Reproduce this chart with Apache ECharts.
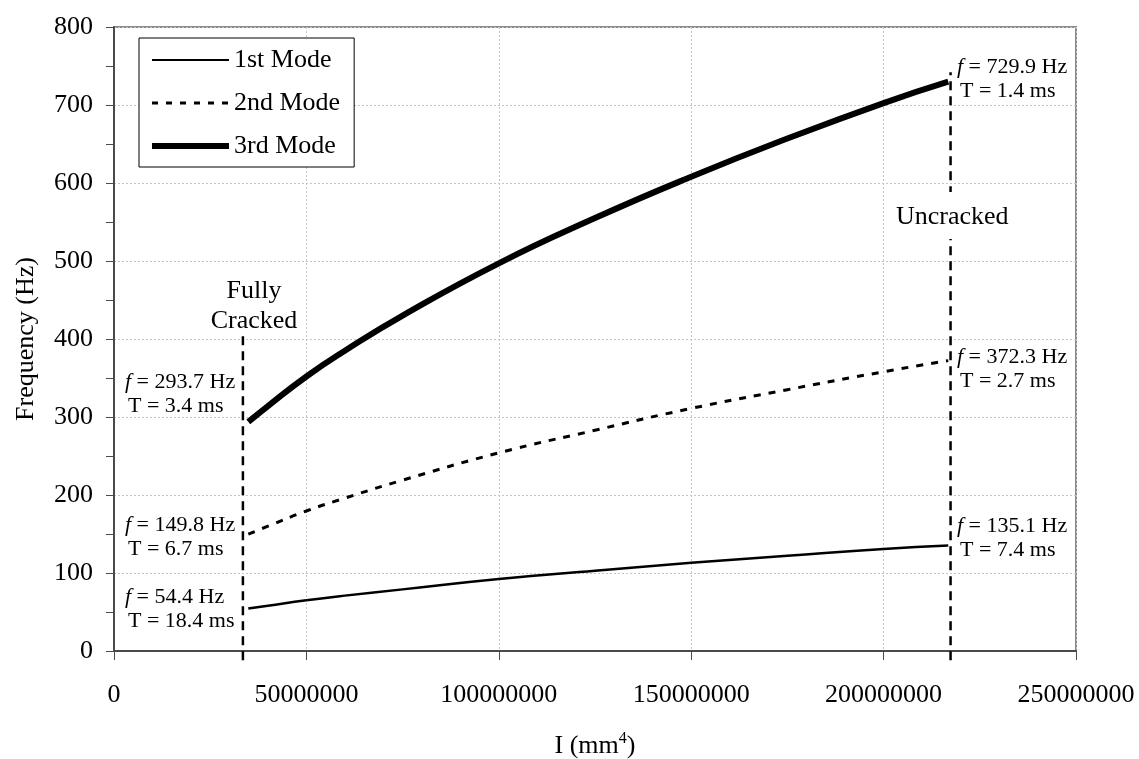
<!DOCTYPE html>
<html>
<head>
<meta charset="utf-8">
<script src="https://cdn.jsdelivr.net/npm/echarts@6/dist/echarts.min.js"></script>
<style>html,body{margin:0;padding:0;background:#fff;}#c{width:1139px;height:759px;}</style>
</head>
<body>
<div id="c"></div>
<script>
// ---- data ----
var inertia = [34900000, 40000000, 50000000, 60000000, 75000000, 100000000, 125000000, 150000000, 175000000, 200000000, 216800000];
var mode1 = [54.4, 58, 65, 71, 79, 92.3, 103, 113, 122, 130.8, 135.1];
var mode2 = [149.8, 160, 179.5, 196, 219, 254, 283, 311, 335, 358, 372.3];
var mode3 = [293.7, 314, 352, 385, 430, 497, 555, 608, 657, 702.5, 729.9];
var seriesNames = ['1st Mode', '2nd Mode', '3rd Mode'];
var crackedI = 33500000;
var uncrackedI = 217400000;
var crackedLine = [-12, 405];
var uncrackedLine = [-12, 742];
var leftLabels = [['293.7', '3.4'], ['149.8', '6.7'], ['54.4', '18.4']];
var rightLabels = [['729.9', '1.4'], ['372.3', '2.7'], ['135.1', '7.4']];
var yTicks = {min: 0, max: 800, interval: 100};
var xTicks = {min: 0, max: 250000000, interval: 50000000};

var FONT = '"Liberation Serif", "Times New Roman", serif';

function pairs(xs, ys) { return xs.map(function (x, i) { return [x, ys[i]]; }); }

var chart = echarts.init(document.getElementById('c'), null, {renderer: 'canvas'});

var rich = {
  i: {fontFamily: FONT, fontStyle: 'italic', fontSize: 22, color: '#000'},
  n: {fontFamily: FONT, fontSize: 22, color: '#000'}
};
function annot(x, y, f, t) {
  return [
    {type: 'text', left: x, top: y - 12, z: 50,
     style: {text: '{i|f}{n| = ' + f + ' Hz}', rich: rich, font: '22px ' + FONT, fill: '#000'}},
    {type: 'text', left: x + 3, top: y + 12, z: 50,
     style: {text: 'T = ' + t + ' ms', font: '22px ' + FONT, fill: '#000'}}
  ];
}
var leftY = [383, 526, 598];
var rightY = [68, 358, 527];
var graphics = [];
leftLabels.forEach(function (l, k) { graphics = graphics.concat(annot(125, leftY[k], l[0], l[1])); });
rightLabels.forEach(function (l, k) { graphics = graphics.concat(annot(957, rightY[k], l[0], l[1])); });
graphics.push({type: 'text', z: 50, x: 254, y: 276,
  style: {text: 'Fully\nCracked', font: '26px ' + FONT, fill: '#000', align: 'center', verticalAlign: 'top', lineHeight: 30}});
graphics.push({type: 'rect', z: 40, shape: {x: 885, y: 192, width: 130, height: 47}, style: {fill: '#fff'}});
graphics.push({type: 'text', z: 50, left: 896, top: 204,
  style: {text: 'Uncracked', font: '26px ' + FONT, fill: '#000'}});

var legendWidths = [2, 3, 6];
var legendTypes = ['solid', [6, 8], 'solid'];

var option = {
  backgroundColor: '#fff',
  animation: false,
  textStyle: {fontFamily: FONT, color: '#000'},
  grid: {left: 114, right: 63, top: 27, bottom: 108, show: true, borderColor: '#8a8a8a', borderWidth: 2,
    containLabel: false, outerBoundsMode: 'none'},
  legend: {
    data: seriesNames.map(function (n, k) {
      return {name: n, itemStyle: {opacity: 0}, lineStyle: {width: legendWidths[k], type: legendTypes[k], color: '#000'}};
    }),
    orient: 'vertical',
    left: 139, top: 38,
    padding: [9, 14, 8, 10],
    itemWidth: 77, itemHeight: 26, itemGap: 17,
    backgroundColor: '#fff',
    borderColor: '#000', borderWidth: 1,
    textStyle: {fontFamily: FONT, fontSize: 26, color: '#000'},
    selectedMode: false
  },
  xAxis: {
    type: 'value', min: xTicks.min, max: xTicks.max, interval: xTicks.interval,
    name: 'I (mm{sup|4})', nameLocation: 'middle', nameGap: 80,
    nameTextStyle: {fontFamily: FONT, fontSize: 26, color: '#000',
      rich: {sup: {fontFamily: FONT, fontSize: 16, color: '#000', padding: [0, 0, 14, 0]}}},
    axisLine: {show: true, onZero: false, lineStyle: {color: '#4a4a4a', width: 2}},
    axisTick: {show: true, inside: false, length: 9, lineStyle: {color: '#4a4a4a', width: 1}},
    axisLabel: {fontFamily: FONT, fontSize: 26, color: '#000', margin: 31,
      formatter: function (v) { return String(v); }},
    splitLine: {show: true, lineStyle: {color: '#c4c4c4', width: 1, type: [2, 2]}}
  },
  yAxis: {
    type: 'value', min: yTicks.min, max: yTicks.max, interval: yTicks.interval,
    name: 'Frequency (Hz)', nameLocation: 'middle', nameGap: 75, nameRotate: 90,
    nameTextStyle: {fontFamily: FONT, fontSize: 26, color: '#000'},
    axisLine: {show: true, onZero: false, lineStyle: {color: '#4a4a4a', width: 2}},
    axisTick: {show: true, inside: false, length: 8, lineStyle: {color: '#4a4a4a', width: 1}},
    minorTick: {show: true, splitNumber: 2, length: 8, lineStyle: {color: '#4a4a4a', width: 1}},
    axisLabel: {fontFamily: FONT, fontSize: 26, color: '#000', margin: 21},
    splitLine: {show: true, lineStyle: {color: '#c4c4c4', width: 1, type: [2, 2]}}
  },
  series: [
    {name: seriesNames[0], type: 'line', data: pairs(inertia, mode1), symbol: 'none', smooth: true,
     lineStyle: {color: '#000', width: 2.5}, itemStyle: {color: '#000'}, z: 5},
    {name: seriesNames[1], type: 'line', data: pairs(inertia, mode2), symbol: 'none', smooth: true,
     lineStyle: {color: '#000', width: 3, type: [7, 8]}, itemStyle: {color: '#000'}, z: 5},
    {name: seriesNames[2], type: 'line', data: pairs(inertia, mode3), symbol: 'none', smooth: true,
     lineStyle: {color: '#000', width: 6}, itemStyle: {color: '#000'}, z: 5},
    {name: 'cracked', type: 'line', data: [[crackedI, crackedLine[0]], [crackedI, crackedLine[1]]], symbol: 'none',
     clip: false, lineStyle: {color: '#000', width: 2.5, type: [9, 6]}, z: 4},
    {name: 'uncracked', type: 'line', data: [[uncrackedI, uncrackedLine[0]], [uncrackedI, uncrackedLine[1]]], symbol: 'none',
     clip: false, lineStyle: {color: '#000', width: 2.5, type: [9, 6]}, z: 4}
  ],
  graphic: graphics
};
chart.setOption(option);
</script>
</body>
</html>
